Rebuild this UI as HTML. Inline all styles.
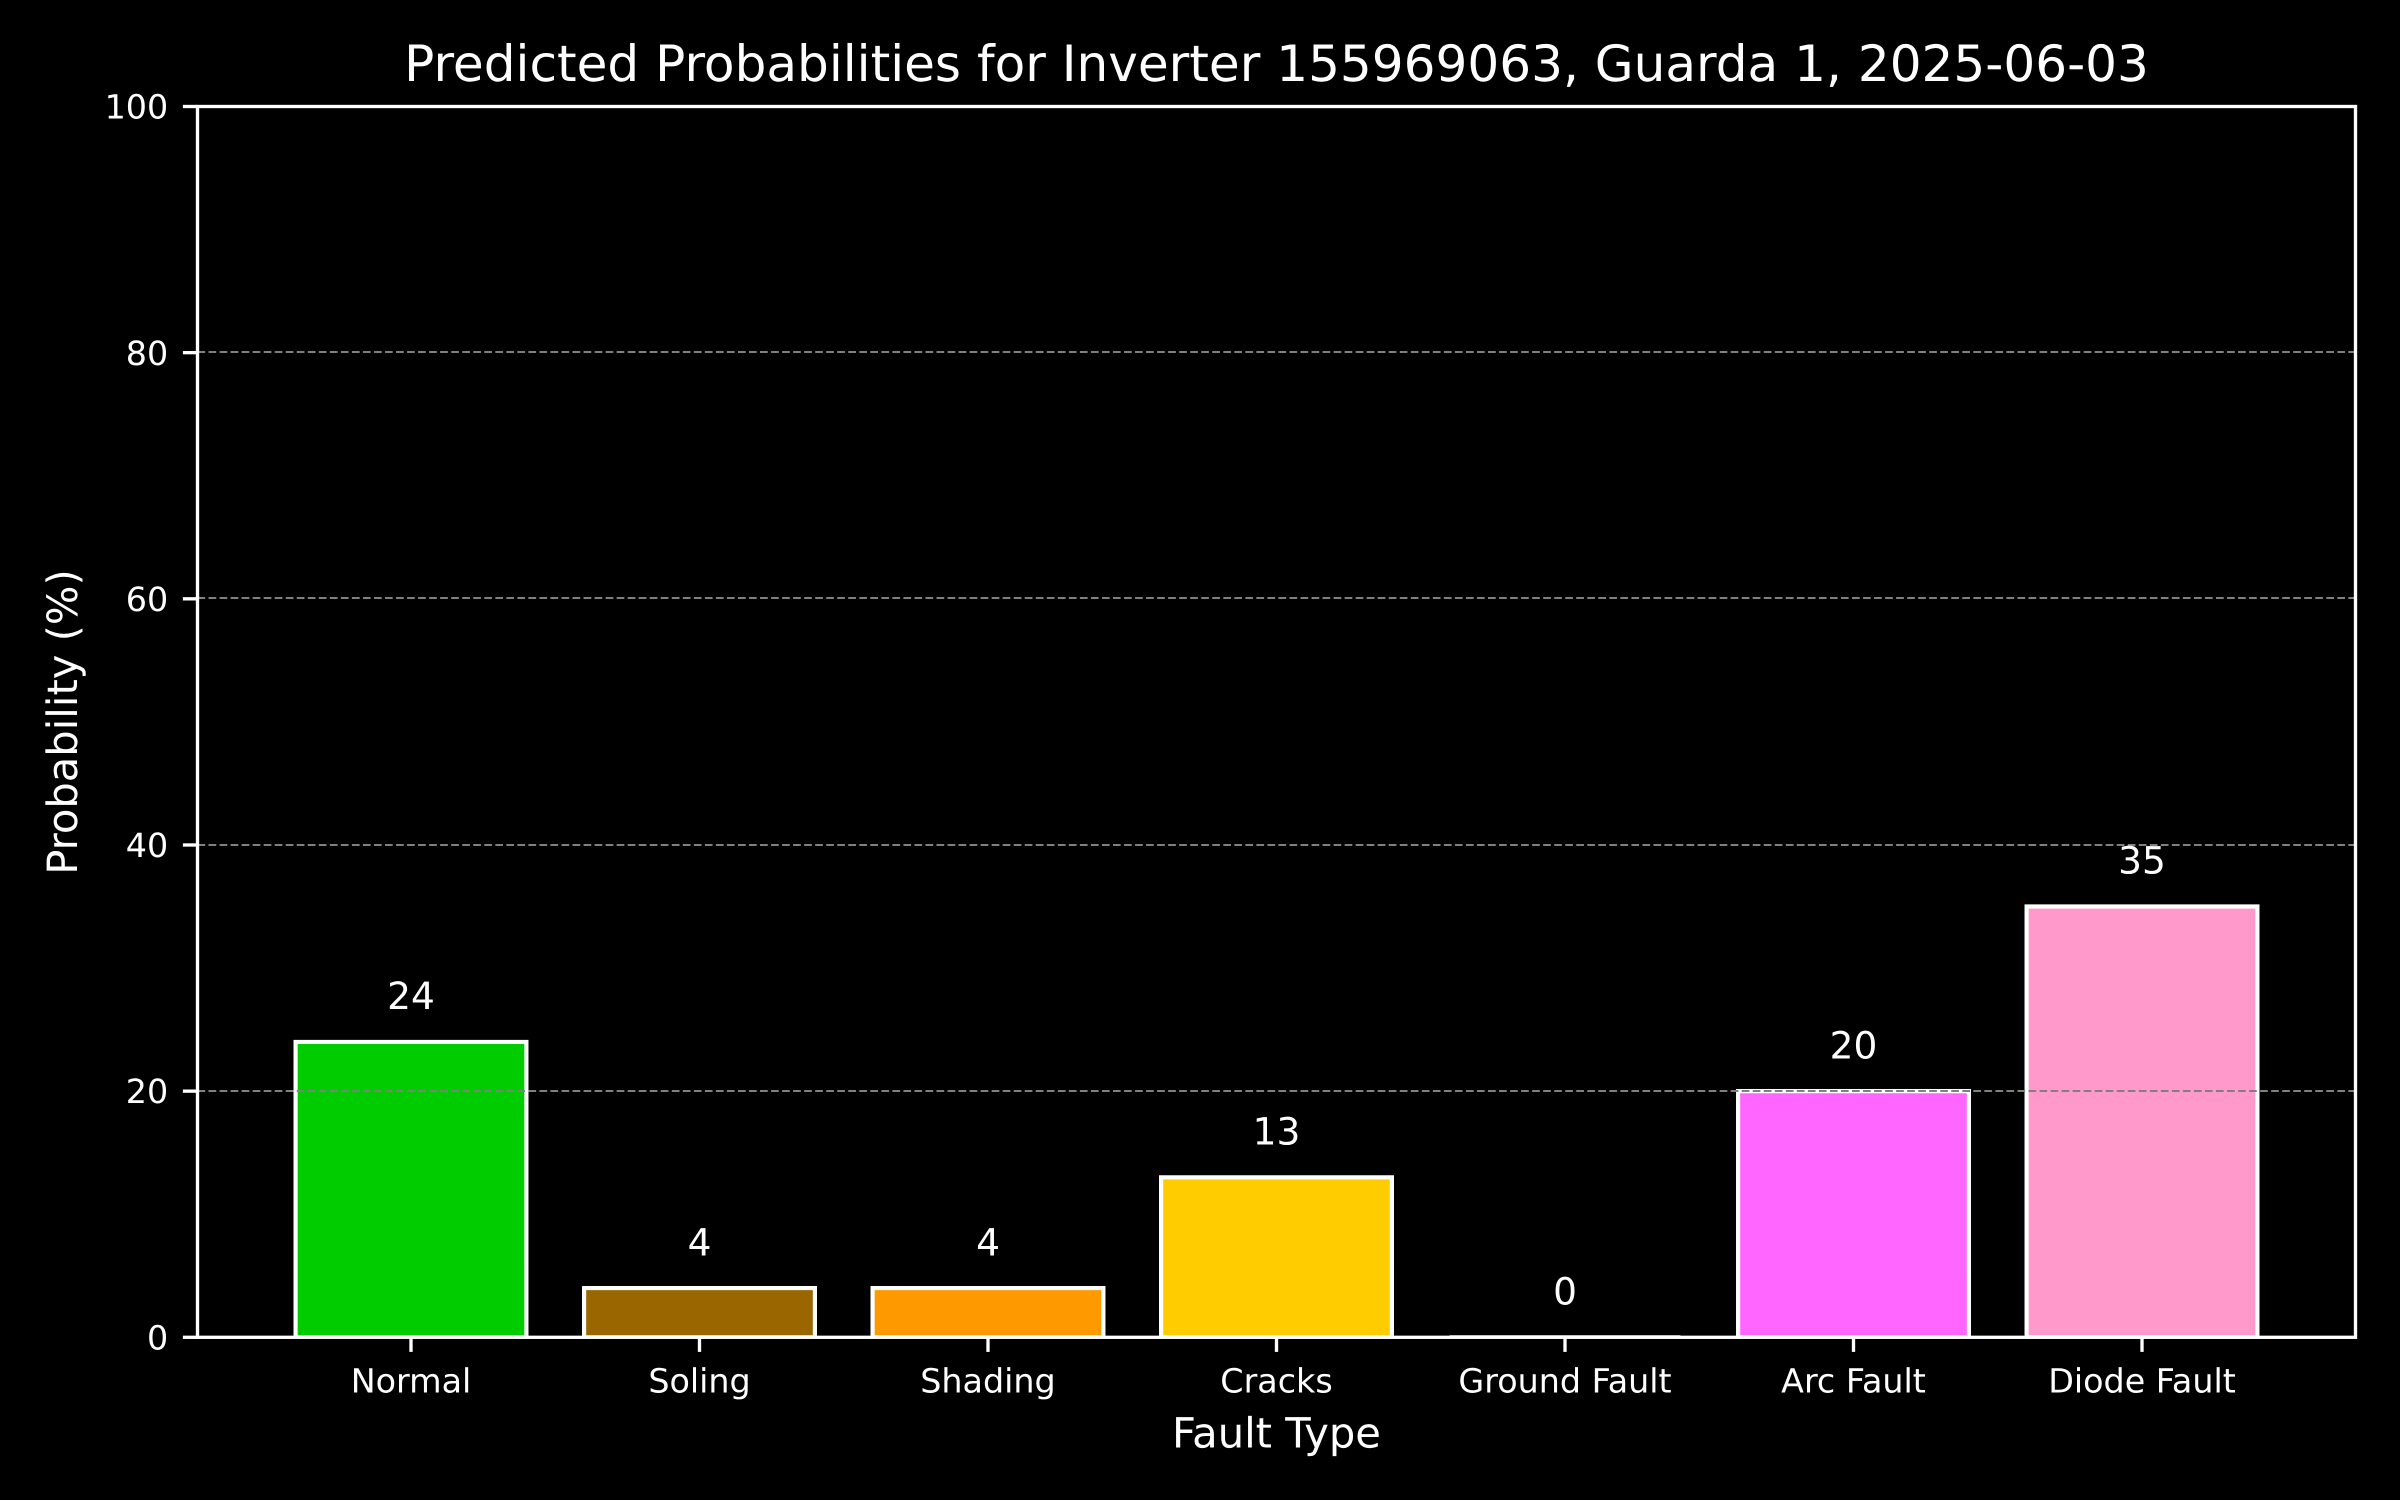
<!DOCTYPE html>
<html lang="en">
<head>
<meta charset="utf-8">
<title>Predicted Probabilities</title>
<style>
html,body{margin:0;padding:0;background:#000;width:2400px;height:1500px;overflow:hidden}
svg{display:block}
text{font-family:"DejaVu Sans","Liberation Sans",sans-serif;fill:#fff;text-rendering:geometricPrecision}
</style>
</head>
<body>
<svg id="chart" xmlns="http://www.w3.org/2000/svg" width="2400" height="1500" viewBox="0 0 2400 1500">
<rect x="0" y="0" width="2400" height="1500" fill="#000"/>
<text x="1276.5" y="81" font-size="50.08" text-anchor="middle">Predicted Probabilities for Inverter 155969063, Guarda 1, 2025-06-03</text>
<text x="1276.5" y="1447.5" font-size="41.67" text-anchor="middle">Fault Type</text>
<text x="77" y="722" font-size="41.67" text-anchor="middle" transform="rotate(-90 77 722)">Probability (%)</text>
</svg>
<script>
const categories = ["Normal", "Soling", "Shading", "Cracks", "Ground Fault", "Arc Fault", "Diode Fault"];
const probabilities = [24, 4, 4, 13, 0, 20, 35];
const barColors = ["#00cc00", "#996600", "#ff9900", "#ffcc00", "#ff0000", "#ff66ff", "#ff99cc"];
const yTicks = [0, 20, 40, 60, 80, 100];

const NS = "http://www.w3.org/2000/svg";
const svg = document.getElementById("chart");
const plot = { left: 197.5, right: 2355.5, top: 106.5, bottom: 1337.3 };
const yMin = 0, yMax = 100;
const barWidth = 0.8;
const xMin = -barWidth / 2 - 0.05 * (categories.length - 1 + barWidth);
const xMax = categories.length - 1 + barWidth / 2 + 0.05 * (categories.length - 1 + barWidth);

function xScale(v) {
  return plot.left + (v - xMin) / (xMax - xMin) * (plot.right - plot.left);
}
function yScale(v) {
  return plot.bottom - (v - yMin) / (yMax - yMin) * (plot.bottom - plot.top);
}
function make(tag, attrs, text) {
  const el = document.createElementNS(NS, tag);
  for (const k in attrs) el.setAttribute(k, attrs[k]);
  if (text !== undefined) el.textContent = text;
  return el;
}

const defs = make("defs", {});
const clip = make("clipPath", { id: "plot-clip" });
clip.appendChild(make("rect", {
  x: plot.left, y: plot.top,
  width: plot.right - plot.left, height: plot.bottom - plot.top
}));
defs.appendChild(clip);
svg.appendChild(defs);

const barLayer = make("g", { "clip-path": "url(#plot-clip)" });


svg.appendChild(barLayer);

categories.forEach((name, i) => {
  const x0 = xScale(i - barWidth / 2);
  const x1 = xScale(i + barWidth / 2);
  const y0 = yScale(probabilities[i]);
  const y1 = yScale(0);
  const bar = make("path", {
    d: "M" + x0 + " " + y1 + "L" + x0 + " " + y0 + "L" + x1 + " " + y0 + "L" + x1 + " " + y1 + "Z",
    fill: barColors[i], stroke: "#fff", "stroke-width": 4.17
  });
  
  
  barLayer.appendChild(bar);
});

yTicks.forEach(t => {
  const y = Math.floor(yScale(t) + 0.05);
  const grid = make("line", {
    x1: plot.left, x2: plot.right, y1: y, y2: y,
    stroke: "#808080", "stroke-width": 2,
    "stroke-dasharray": "7.7 3.33"
  });
  
  
  svg.appendChild(grid);
});

const frame = make("rect", {
  x: plot.left, y: plot.top,
  width: plot.right - plot.left, height: plot.bottom - plot.top,
  fill: "none", stroke: "#fff", "stroke-width": 3.33
});


svg.appendChild(frame);

yTicks.forEach(t => {
  const y = yScale(t);
  const tick = make("line", {
    x1: plot.left - 14.6, x2: plot.left, y1: y, y2: y,
    stroke: "#fff", "stroke-width": 3.33
  });
  
  
  svg.appendChild(tick);
  const label = make("text", {
    x: plot.left - 29.3, y: y + 12.1, "font-size": 33.33, "text-anchor": "end"
  }, String(t));
  
  
  svg.appendChild(label);
});

categories.forEach((name, i) => {
  const x = xScale(i);
  const slug = name.toLowerCase().replace(/ /g, '-');
  const tick = make("line", {
    x1: x, x2: x, y1: plot.bottom, y2: plot.bottom + 14.6,
    stroke: "#fff", "stroke-width": 3.33
  });
  
  
  svg.appendChild(tick);
  const label = make("text", {
    x: x, y: plot.bottom + 55, "font-size": 33.33, "text-anchor": "middle"
  }, name);
  
  
  svg.appendChild(label);
  const value = make("text", {
    x: x, y: yScale(probabilities[i] + 2) - 8.2, "font-size": 37.5, "text-anchor": "middle"
  }, String(probabilities[i]));
  
  
  svg.appendChild(value);
});
</script>
</body>
</html>
